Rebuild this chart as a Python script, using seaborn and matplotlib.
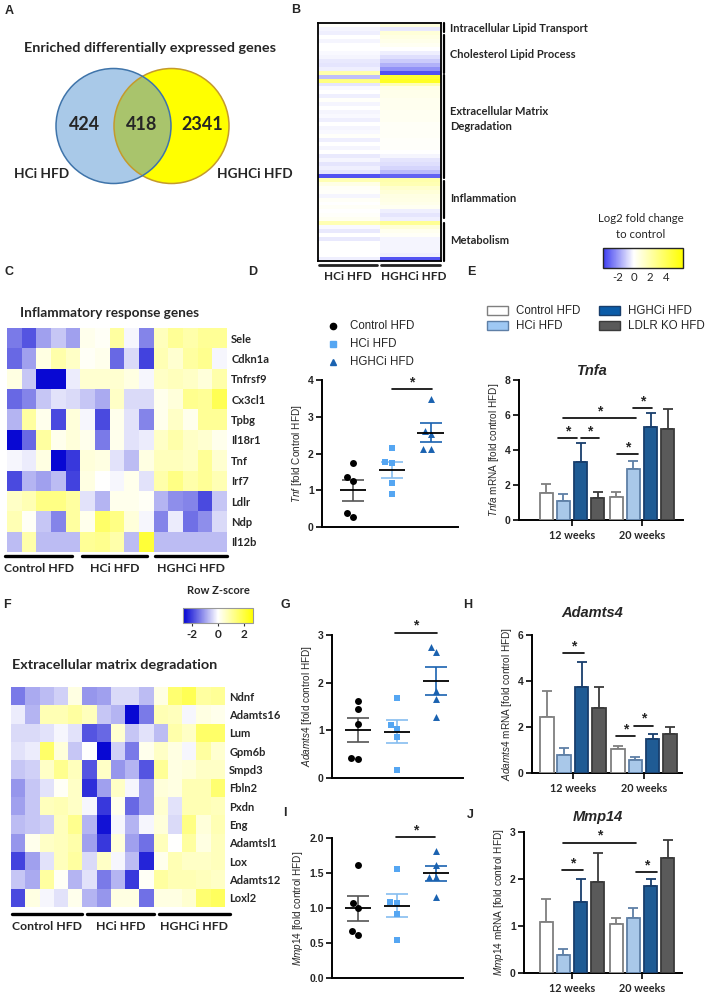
import numpy as np
import pandas as pd
import matplotlib
matplotlib.use('Agg')
import matplotlib.pyplot as plt
import seaborn as sns
from matplotlib.colors import LinearSegmentedColormap
from matplotlib.patches import Circle, Rectangle

# ---------------- data ----------------
# A: Venn counts (only HCi, shared, only HGHCi)
venn_labels = ['HCi HFD', 'HGHCi HFD']
venn_counts = [424, 418, 2341]

# B: log2 fold change to control, two columns
b_cols = ['HCi HFD', 'HGHCi HFD']
b_pathways = ['Intracellular Lipid Transport', 'Cholesterol Lipid Process',
              'Extracellular Matrix\nDegradation', 'Inflammation', 'Metabolism']
b_hci = [0.1, -0.2, -0.3, 0.0, -0.2, 0.0, 0.0, -0.1, -0.2, -0.4,
         -0.5, -0.3, 2.0, -1.2, 3.0, -0.5, -0.1, 0.0, -0.3, 0.1,
         -0.2, 0.0, -0.2, -0.1, -0.3, 0.0, -0.2, -0.1, 0.1, -0.3,
         0.0, -0.2, 0.0, -0.4, -0.2, -0.5, -0.3, -0.5, -3.3, 1.8,
         0.6, 0.2, 0.1, -0.2, 0.2, 0.0, 0.2, 0.0, 0.1, 0.3,
         1.8, -0.1, -0.4, 0.0, -0.4, 0.0, 0.0, 0.0, 0.0, -0.3]
b_hghci = [0.8, -0.4, 0.9, 0.7, 0.5, 0.3, 0.0, -0.3, -0.6, -1.0,
           -1.5, -2.1, -3.3, 4.8, 5.2, 1.8, 0.6, 0.5, 0.5, 0.4,
           0.4, 0.4, 0.3, 0.3, 0.3, 0.2, 0.2, 0.2, 0.2, 0.1,
           0.1, 0.1, 0.0, -0.2, -0.5, -0.6, -0.8, -1.3, -3.0, 2.0,
           1.8, 1.2, 0.9, 0.7, 0.6, 0.5, 0.3, -0.3, -0.5, -0.3,
           2.5, 0.9, 0.4, 0.2, -0.2, -0.2, -0.2, -0.2, -0.3, -3.3]

# C / F: row z-scores, 5 mice per group
heat_groups = ['Control HFD', 'HCi HFD', 'HGHCi HFD']
infl_genes = ['Sele', 'Cdkn1a', 'Tnfrsf9', 'Cx3cl1', 'Tpbg', 'Il18r1',
              'Tnf', 'Irf7', 'Ldlr', 'Ndp', 'Il12b']
infl_z = [
    [-1.4, -1.8, -1.0, -0.6, -1.0, 0.2, 0.1, 1.0, -0.1, -1.3, 0.7, 1.1, 0.9, 1.1, 1.1],
    [-1.6, -1.0, 0.3, 0.9, 0.6, 0.1, 0.2, -1.6, -0.4, -2.0, 0.8, 0.5, 1.0, 1.2, -0.1],
    [0.3, -0.6, -2.6, -2.6, -0.2, 0.5, 0.5, 0.5, 0.3, -0.1, 0.6, 0.7, 0.6, 0.4, 0.9],
    [-1.6, -1.3, -0.6, -0.3, -0.4, -0.6, -0.9, 0.6, -0.4, -0.4, 0.2, 0.4, 1.2, 1.1, 1.8],
    [-0.8, 1.0, 0.2, -1.9, 0.4, -0.1, -1.9, 0.2, -0.3, -1.3, 0.2, 0.6, 0.2, 1.1, 1.1],
    [-2.6, -1.6, 1.0, 0.2, 0.4, 0.2, -1.4, 0.2, -0.3, -0.2, 0.6, 0.9, 0.6, 0.5, 0.2],
    [-0.1, -0.2, 0.3, -2.6, -2.1, 0.4, 0.3, -0.3, -0.7, 0.3, 0.7, 0.7, 0.6, 1.1, 0.5],
    [-1.9, -0.8, -1.0, -0.7, -2.0, 0.3, 0.0, -0.1, 0.2, -0.3, 0.9, 1.3, 0.9, 1.1, 0.8],
    [0.6, 0.8, 1.3, 1.3, 1.0, -0.3, -0.8, 0.2, 0.2, 0.1, -0.8, -1.2, -1.3, -1.9, -0.6],
    [0.8, 0.1, -0.6, -1.3, 1.0, 0.2, 1.6, 1.3, 0.4, -0.1, -1.3, -0.2, -1.5, -1.2, -0.4],
    [-0.7, 0.9, -0.7, -0.7, -0.7, 1.1, 1.2, 0.9, -0.7, 2.1, -0.7, -0.7, -0.7, -0.7, -0.7],
]
ecm_genes = ['Ndnf', 'Adamts16', 'Lum', 'Gpm6b', 'Smpd3', 'Fbln2', 'Pxdn',
             'Eng', 'Adamtsl1', 'Lox', 'Adamts12', 'Loxl2']
ecm_z = [
    [-1.4, -0.9, -0.7, -0.5, 0.3, -1.1, -1.0, -0.4, -0.4, -0.7, 0.3, 1.5, 1.8, 1.0, 1.1],
    [-0.2, -0.8, 0.8, 0.8, 1.0, 0.7, -0.6, -0.8, -2.6, -1.4, 0.8, 0.7, -0.1, 0.3, 0.2],
    [-0.4, -0.4, -0.3, -0.1, -0.3, -1.8, -1.6, 0.5, -0.6, -0.3, -0.7, 0.9, 0.6, 1.6, 1.6],
    [-0.3, -0.2, 1.6, 0.4, -0.6, 0.0, -2.6, -0.5, -1.4, 0.2, 0.6, 0.3, -0.1, 1.0, 0.5],
    [-0.6, -0.5, 0.6, 1.2, 0.7, -1.8, 0.6, -1.1, -0.8, -1.8, 1.1, 0.3, 0.4, 0.6, 0.6],
    [-1.1, -0.6, -0.3, 0.1, 0.6, -2.2, -1.0, 0.6, -0.1, -1.0, 0.4, 0.3, 0.8, 0.8, 1.5],
    [-1.0, -0.6, 0.7, 0.8, 0.6, -0.1, -2.1, 0.2, -1.6, -1.0, 0.5, -0.3, 0.8, 0.8, 0.7],
    [-0.7, -0.6, -0.5, 0.7, 1.2, -0.8, -2.5, -0.1, -0.8, -0.1, 0.4, -0.4, 1.3, 0.4, 0.8],
    [-1.1, 0.2, 0.6, 0.7, 0.9, -1.0, -2.1, 0.4, -1.0, -1.5, 0.7, 0.0, 1.0, 0.3, 0.7],
    [-2.0, -1.0, -0.3, 0.7, 1.0, -0.4, 0.6, -0.1, -0.7, -2.3, 0.2, 0.8, 0.6, 0.6, 0.7],
    [-0.6, -0.9, 1.0, 0.1, -0.8, -0.3, -1.4, -0.8, -2.1, 0.1, 1.0, 0.8, 0.8, 0.7, 0.6],
    [-1.9, 0.3, -0.1, -0.3, 0.2, -0.8, -1.1, 0.3, 0.3, -1.5, 0.3, 0.3, 0.5, 1.5, 1.7],
]

# D / G / I: individual mice
dot_groups = ['Control HFD', 'HCi HFD', 'HGHCi HFD']
tnf_ctrl = [1.75, 1.36, 1.25, 0.39, 0.27]
tnf_hci = [2.14, 1.77, 1.73, 1.20, 0.89]
tnf_hghci = [3.47, 2.62, 2.52, 2.12, 2.12]
adamts4_ctrl = [1.62, 1.45, 1.13, 0.42, 0.40]
adamts4_hci = [1.67, 1.12, 1.03, 0.86, 0.16]
adamts4_hghci = [2.75, 2.65, 1.83, 1.66, 1.29]
mmp14_ctrl = [1.62, 1.07, 1.00, 0.67, 0.62]
mmp14_hci = [1.56, 1.08, 1.07, 0.91, 0.55]
mmp14_hghci = [1.81, 1.62, 1.44, 1.44, 1.16]

# E / H / J: mean and SEM per time point
bar_groups = ['Control HFD', 'HCi HFD', 'HGHCi HFD', 'LDLR KO HFD']
weeks = ['12 weeks', '20 weeks']
tnfa_12w = [1.52, 1.10, 3.30, 1.24]
tnfa_20w = [1.30, 2.90, 5.33, 5.18]
tnfa_sem_12w = [0.54, 0.37, 1.12, 0.38]
tnfa_sem_20w = [0.28, 0.49, 0.77, 1.16]
adamts4_12w = [2.43, 0.77, 3.76, 2.82]
adamts4_20w = [1.04, 0.58, 1.47, 1.71]
adamts4_sem_12w = [1.15, 0.31, 1.08, 0.94]
adamts4_sem_20w = [0.12, 0.11, 0.22, 0.31]
mmp14_12w = [1.09, 0.39, 1.52, 1.94]
mmp14_20w = [1.04, 1.18, 1.85, 2.45]
mmp14_sem_12w = [0.48, 0.12, 0.49, 0.61]
mmp14_sem_20w = [0.12, 0.20, 0.15, 0.39]

# ---------------- style ----------------
sns.set_theme(style='white')
plt.rcParams['font.family'] = ['Liberation Sans', 'DejaVu Sans']
plt.rcParams['axes.unicode_minus'] = False
plt.rcParams['mathtext.fontset'] = 'custom'
plt.rcParams['mathtext.rm'] = 'Liberation Sans'
plt.rcParams['mathtext.it'] = 'Liberation Sans:italic'
plt.rcParams['mathtext.bf'] = 'Liberation Sans:bold'

W, H = 706, 992
fig = plt.figure(figsize=(W / 100, H / 100), dpi=100)


def rect(x0, y0, x1, y1):
    return [x0 / W, 1 - y1 / H, (x1 - x0) / W, (y1 - y0) / H]


ov = fig.add_axes([0, 0, 1, 1], zorder=10)
ov.set_xlim(0, W)
ov.set_ylim(H, 0)
ov.axis('off')
ov.patch.set_visible(False)

BOLD = dict(fontweight='bold', family='Lato')

# panel letters
for lab, x, y in [('A', 9, 11), ('B', 296, 10), ('C', 9, 272), ('D', 253, 272),
                  ('E', 471, 272), ('F', 7, 605), ('G', 285, 605), ('H', 468, 605),
                  ('I', 285, 813), ('J', 470, 815)]:
    ov.text(x, y, lab, ha='center', va='center', fontsize=9, fontweight='bold')

# ---------------- A: Venn ----------------
ov.text(150, 48, 'Enriched differentially expressed genes', ha='center', va='center',
        fontsize=10.4, **BOLD)
lc = Circle((113.5, 126), 57.5, facecolor='#a9c9e8', edgecolor='none')
rc = Circle((171.5, 126), 57.5, facecolor='#ffff00', edgecolor='none')
ov.add_patch(lc)
ov.add_patch(rc)
mid = Circle((113.5, 126), 57.5, facecolor='#a9c46c', edgecolor='none')
ov.add_patch(mid)
mid.set_clip_path(rc)
ov.add_patch(Circle((171.5, 126), 57.5, fill=False, edgecolor='#c49a2c', lw=1.1))
ov.add_patch(Circle((113.5, 126), 57.5, fill=False, edgecolor='#3f74aa', lw=1.1))
for n, x in zip(venn_counts, [85, 142, 202]):
    ov.text(x, 125, str(n), ha='center', va='center', fontsize=13, **BOLD)
ov.text(42, 174, venn_labels[0], ha='center', va='center', fontsize=9.8, **BOLD)
ov.text(255, 174, venn_labels[1], ha='center', va='center', fontsize=9.8, **BOLD)

# ---------------- B: log2 FC heatmap ----------------
cmap_b = LinearSegmentedColormap.from_list('b', [(0, '#3c3cf0'), (0.385, '#ffffff'), (1, '#ffff00')])
axb = fig.add_axes(rect(318, 23, 441, 261))
b_df = pd.DataFrame({b_cols[0]: b_hci, b_cols[1]: b_hghci})
sns.heatmap(b_df, ax=axb, cmap=cmap_b, vmin=-3.75, vmax=6, cbar=False,
            xticklabels=False, yticklabels=False)
for s in axb.spines.values():
    s.set_visible(True)
    s.set_linewidth(1.3)
    s.set_color('black')
for y0, y1 in [(23, 32), (35, 73), (75, 178), (181, 218), (223, 261)]:
    ov.plot([444, 444], [y0, y1], color='black', lw=1.6)
for txt, y in zip(b_pathways, [28, 54, 119, 199, 240]):
    ov.text(450, y, txt, ha='left', va='center', fontsize=8, linespacing=1.55, **BOLD)
ov.plot([319, 377], [265, 265], color='#222222', lw=2)
ov.plot([381, 440], [265, 265], color='#222222', lw=2)
ov.text(348, 277, b_cols[0], ha='center', va='center', fontsize=8.5, **BOLD)
ov.text(414, 277, b_cols[1], ha='center', va='center', fontsize=8.5, **BOLD)
ov.text(641, 219, 'Log2 fold change', ha='center', va='center', fontsize=8.2, family='Lato')
ov.text(641, 235, 'to control', ha='center', va='center', fontsize=8.2, family='Lato')
caxb = fig.add_axes(rect(603, 248, 683, 268))
cbb = fig.colorbar(axb.collections[0], cax=caxb, orientation='horizontal')
cbb.set_ticks([-2, 0, 2, 4])
cbb.outline.set_linewidth(1.0)
caxb.tick_params(direction='in', length=3, width=0.8, top=True, bottom=True,
                 labelsize=8.2, pad=3, color='#333333')
for t in caxb.get_xticklabels():
    t.set_family('Lato')

# ---------------- C / F: z-score heatmaps ----------------
cmap_z = LinearSegmentedColormap.from_list('z', ['#0000d2', '#ffffff', '#ffff00'])


def zheat(box, mat, genes):
    ax = fig.add_axes(rect(*box))
    sns.heatmap(pd.DataFrame(mat, index=genes), ax=ax, cmap=cmap_z, vmin=-2.7, vmax=2.7,
                cbar=False, xticklabels=False, yticklabels=genes)
    ax.yaxis.tick_right()
    ax.tick_params(axis='y', length=0, pad=3)
    for t in ax.get_yticklabels():
        t.set_rotation(0)
        t.set_fontsize(8)
        t.set_fontweight('bold')
        t.set_family('Lato')
    ax.set_xlabel('')
    ax.set_ylabel('')
    return ax


axc = zheat((7, 328, 227, 552), infl_z, infl_genes)
ov.text(20, 313, 'Inflammatory response genes', ha='left', va='center', fontsize=9.8, **BOLD)
for (x0, x1), g in zip([(5, 72), (82, 147), (155, 227)], heat_groups):
    ov.plot([x0, x1], [556, 556], color='black', lw=2.4)
    ov.text((x0 + x1) / 2, 568, g, ha='center', va='center', fontsize=8.8, **BOLD)

axf = zheat((11, 687, 225, 907), ecm_z, ecm_genes)
ov.text(12, 665, 'Extracellular matrix degradation', ha='left', va='center', fontsize=10.4, **BOLD)
for (x0, x1), g in zip([(12, 82), (87, 154), (159, 230)], heat_groups):
    ov.plot([x0, x1], [914, 914], color='black', lw=2.4)
    ov.text((x0 + x1) / 2, 926, g, ha='center', va='center', fontsize=8.8, **BOLD)

ov.text(218, 590, 'Row Z-score', ha='center', va='center', fontsize=8, **BOLD)
caxz = fig.add_axes(rect(183, 608, 253, 623))
cbz = fig.colorbar(axc.collections[0], cax=caxz, orientation='horizontal')
cbz.set_ticks([-2, 0, 2])
cbz.outline.set_linewidth(0.8)
cbz.outline.set_edgecolor('#999999')
caxz.tick_params(direction='out', length=2.5, width=0.8, labelsize=8.5, pad=2, color='#333333')
for t in caxz.get_xticklabels():
    t.set_fontweight('bold')
    t.set_family('Lato')

# ---------------- D / G / I: dot plots ----------------
dot_colors = ['black', '#55a6f2', '#1a62b0']
sem_colors = ['#555555', '#86bdf0', '#1a62b0']
dot_markers = ['o', 's', '^']


def style_axes(ax):
    sns.despine(ax=ax)
    for s in ['left', 'bottom']:
        ax.spines[s].set_linewidth(1.4)
        ax.spines[s].set_color('black')
    ax.tick_params(axis='y', direction='out', length=4, width=1.4, labelsize=7.5, pad=2, left=True)
    for t in ax.get_yticklabels():
        t.set_fontweight('bold')


def star(ax, x0, x1, y):
    ax.plot([x0, x1], [y, y], color='black', lw=1.2, clip_on=False)
    ax.annotate('*', ((x0 + x1) / 2, y), xytext=(0, 5), textcoords='offset points',
                ha='center', va='center', fontsize=10, fontweight='bold',
                annotation_clip=False)


def dotpanel(box, series, ylim, yticks, ylabel, xlim, sig):
    ax = fig.add_axes(rect(*box))
    for g, vals, c, m in zip(dot_groups, series, dot_colors, dot_markers):
        d = pd.DataFrame({'group': g, 'value': vals})
        sns.swarmplot(data=d, x='group', y='value', order=dot_groups, color=c,
                      marker=m, size=5, ax=ax, zorder=3)
    for i, (vals, sc) in enumerate(zip(series, sem_colors)):
        mu = np.mean(vals)
        se = np.std(vals, ddof=1) / np.sqrt(len(vals))
        ax.errorbar(i, mu, yerr=se, fmt='none', ecolor=sc, elinewidth=1.2,
                    capsize=8, capthick=1.2, zorder=2)
        ax.hlines(mu, i - 0.34, i + 0.34, color='black', lw=1.3, zorder=4)
    star(ax, *sig)
    ax.set_ylim(*ylim)
    ax.set_xlim(*xlim)
    ax.set_yticks(yticks)
    ax.set_xticks([])
    ax.set_xlabel('')
    ax.set_ylabel(ylabel, fontsize=7.2, labelpad=3)
    style_axes(ax)
    return ax


dotpanel((322, 380, 458, 527), [tnf_ctrl, tnf_hci, tnf_hghci], (0, 4), [0, 1, 2, 3, 4],
         r'$\mathit{Tnf}$ [fold Control HFD]', (-0.79, 2.7), (1.0, 2.02, 3.75))
dotpanel((332, 635, 463, 778), [adamts4_ctrl, adamts4_hci, adamts4_hghci], (0, 3), [0, 1, 2, 3],
         r'$\mathit{Adamts4}$ [fold control HFD]', (-0.67, 2.69), (0.95, 2.02, 3.05))
axi = dotpanel((332, 838, 463, 978), [mmp14_ctrl, mmp14_hci, mmp14_hghci], (0, 2),
               [0, 0.5, 1.0, 1.5, 2.0], r'$\mathit{Mmp14}$ [fold control HFD]',
               (-0.67, 2.69), (0.97, 1.97, 2.01))
axi.set_yticklabels(['0.0', '0.5', '1.0', '1.5', '2.0'], fontweight='bold')

# legend for D
for i, (g, c, m) in enumerate(zip(dot_groups, dot_colors, dot_markers)):
    y = 326 + 18 * i
    ov.plot([333], [y], marker=m, color=c, markersize=4.5, linestyle='none')
    ov.text(350, y, g, ha='left', va='center', fontsize=8.3)

# ---------------- E / H / J: bar plots ----------------
bar_fill = ['#ffffff', '#9ec8f4', '#0b5ca8', '#5a5a5a']
bar_edge = ['#7f7f7f', '#5e7fa6', '#183e6c', '#3a3a3a']


def barpanel(box, m12, m20, s12, s20, ylim, yticks, ylabel, xlim, sigs):
    ax = fig.add_axes(rect(*box))
    d = pd.DataFrame({'week': [weeks[0]] * 4 + [weeks[1]] * 4,
                      'group': bar_groups * 2,
                      'value': list(m12) + list(m20)})
    sns.barplot(data=d, x='week', y='value', hue='group', order=weeks, hue_order=bar_groups,
                palette=bar_fill, width=0.98, gap=0.22, errorbar=None, legend=False,
                linewidth=1.3, ax=ax)
    conts = list(ax.containers)
    for i, cont in enumerate(conts):
        errs = [s12[i], s20[i]]
        for bar, e in zip(cont, errs):
            bar.set_edgecolor(bar_edge[i])
            bar.set_zorder(3)
            xc = bar.get_x() + bar.get_width() / 2
            ax.errorbar(xc, bar.get_height(), yerr=[[0], [e]], fmt='none', ecolor=bar_edge[i],
                        elinewidth=1.3, capsize=3.5, capthick=1.3, zorder=2)
    for x0, x1, y in sigs:
        star(ax, x0, x1, y)
    ax.set_ylim(*ylim)
    ax.set_xlim(*xlim)
    ax.set_yticks(yticks)
    ax.set_xlabel('')
    ax.set_ylabel(ylabel, fontsize=7.2, labelpad=3)
    style_axes(ax)
    ax.tick_params(axis='x', direction='out', length=4, width=1.4, labelsize=7.8, pad=3, bottom=True)
    for t in ax.get_xticklabels():
        t.set_fontweight('bold')
        t.set_family('Lato')
    return ax


barpanel((519, 380, 683, 520), tnfa_12w, tnfa_20w, tnfa_sem_12w, tnfa_sem_20w, (0, 8),
         [0, 2, 4, 6, 8], r'$\mathit{Tnfa}$ mRNA [fold control HFD]', (-0.757, 1.586),
         [(-0.2, 0.07, 4.67), (0.13, 0.39, 4.67), (-0.13, 0.91, 5.81),
          (0.65, 0.94, 3.75), (0.87, 1.15, 6.38)])
barpanel((532, 635, 682, 773), adamts4_12w, adamts4_20w, adamts4_sem_12w, adamts4_sem_20w, (0, 6),
         [0, 2, 4, 6], r'$\mathit{Adamts4}$ mRNA [fold control HFD]', (-0.577, 1.535),
         [(-0.14, 0.15, 5.2), (0.61, 0.87, 1.59), (0.86, 1.13, 2.05)])
barpanel((524, 832, 682, 973), mmp14_12w, mmp14_20w, mmp14_sem_12w, mmp14_sem_20w, (0, 3),
         [0, 1, 2, 3], r'$\mathit{Mmp14}$ mRNA [fold control HFD]', (-0.686, 1.571),
         [(-0.15, 0.16, 2.19), (-0.13, 0.92, 2.77), (0.92, 1.22, 2.15)])

for txt, x, y in [('Tnfa', 592, 371), ('Adamts4', 592, 613), ('Mmp14', 598, 817)]:
    ov.text(x, y, txt, ha='center', va='center', fontsize=10.5, fontweight='bold',
            fontstyle='italic')

# legend for E
for i, g in enumerate(bar_groups):
    bx = 487 if i < 2 else 599
    by = 306 + 15 * (i % 2)
    ov.add_patch(Rectangle((bx, by), 21, 9, facecolor=bar_fill[i], edgecolor=bar_edge[i], lw=1))
    ov.text(bx + 29, by + 5, g, ha='left', va='center', fontsize=8.3)

fig.savefig('out.png', dpi=100)
